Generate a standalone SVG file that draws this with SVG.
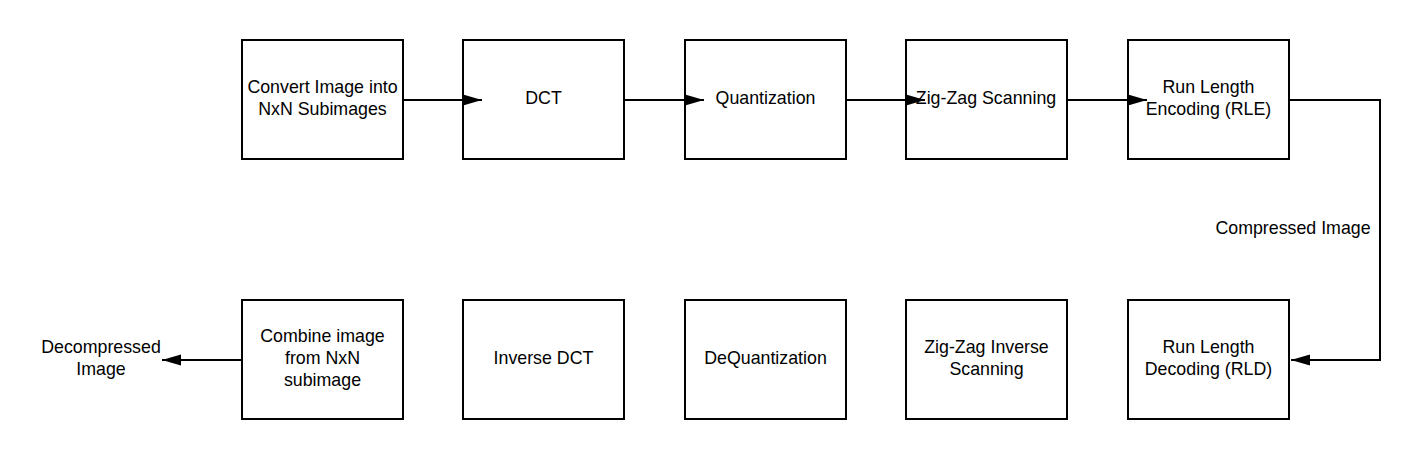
<svg xmlns="http://www.w3.org/2000/svg" width="1420" height="460" viewBox="0 0 1420 460">
<style>
.box{fill:none;stroke:#000;stroke-width:2}
.ln{fill:none;stroke:#000;stroke-width:2}
text{font-family:"Liberation Sans",Arial,sans-serif;font-size:17.8px;fill:#000;text-anchor:middle}
</style>
<defs>
<marker id="ah" markerWidth="20" markerHeight="12" refX="19" refY="6" orient="auto" markerUnits="userSpaceOnUse">
<path d="M0,0.5 L19,6 L0,11.5 Z" fill="#000"/>
</marker>
</defs>
<rect width="1420" height="460" fill="#fff"/>
<g id="connectors">
<path class="ln" d="M403,100 H482" marker-end="url(#ah)"/>
<path class="ln" d="M624,100 H704" marker-end="url(#ah)"/>
<path class="ln" d="M846,100 H925" marker-end="url(#ah)"/>
<path class="ln" d="M1067,100 H1147" marker-end="url(#ah)"/>
<path class="ln" d="M1289,100 H1380 V360 H1291" marker-end="url(#ah)"/>
<path class="ln" d="M242,360 H162" marker-end="url(#ah)"/>
</g>
<g id="n1"><rect class="box" x="242" y="40" width="161" height="119"/><text x="322.5" y="93">Convert Image into</text><text x="322.5" y="115">NxN Subimages</text></g>
<g id="n2"><rect class="box" x="463" y="40" width="161" height="119"/><text x="543.5" y="104">DCT</text></g>
<g id="n3"><rect class="box" x="685" y="40" width="161" height="119"/><text x="765.5" y="104">Quantization</text></g>
<g id="n4"><rect class="box" x="906" y="40" width="161" height="119"/><text x="986" y="104">Zig-Zag Scanning</text></g>
<g id="n5"><rect class="box" x="1128" y="40" width="161" height="119"/><text x="1208.5" y="93">Run Length</text><text x="1208.5" y="115">Encoding (RLE)</text></g>
<g id="n6"><rect class="box" x="1128" y="300" width="161" height="119"/><text x="1208.5" y="353">Run Length</text><text x="1208.5" y="375">Decoding (RLD)</text></g>
<g id="n7"><rect class="box" x="906" y="300" width="161" height="119"/><text x="986.5" y="353">Zig-Zag Inverse</text><text x="986.5" y="375">Scanning</text></g>
<g id="n8"><rect class="box" x="685" y="300" width="161" height="119"/><text x="765.5" y="364">DeQuantization</text></g>
<g id="n9"><rect class="box" x="463" y="300" width="161" height="119"/><text x="543.5" y="364">Inverse DCT</text></g>
<g id="n10"><rect class="box" x="242" y="300" width="161" height="119"/><text x="322.5" y="342">Combine image</text><text x="322.5" y="364">from NxN</text><text x="322.5" y="386">subimage</text></g>
<g id="l1"><text x="1293" y="234">Compressed Image</text></g>
<g id="l2"><text x="101" y="353">Decompressed</text><text x="101" y="375">Image</text></g>
</svg>
